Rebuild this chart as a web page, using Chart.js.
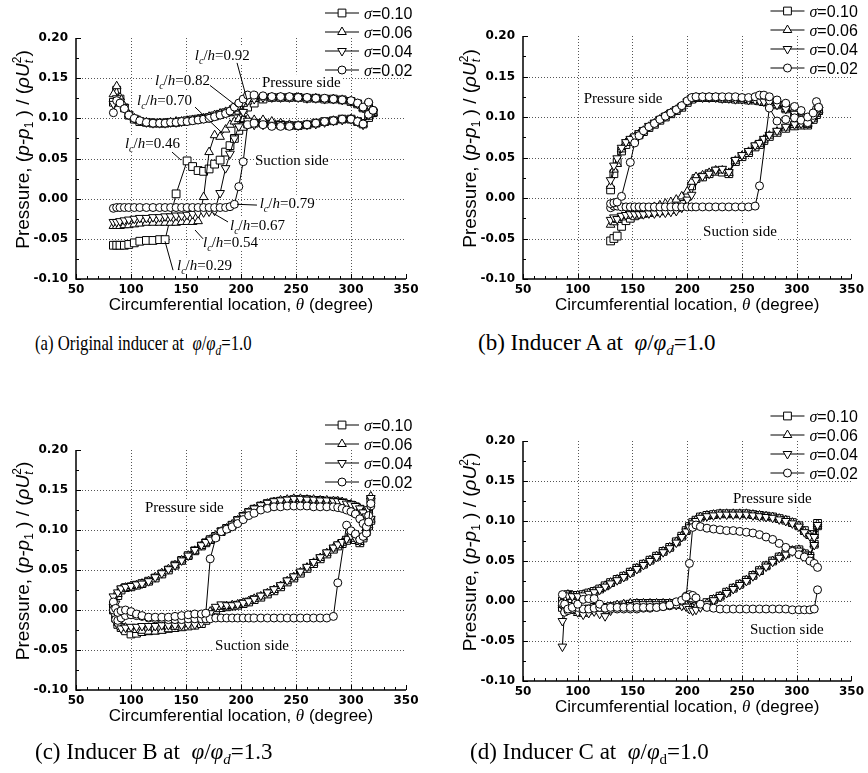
<!DOCTYPE html>
<html>
<head>
<meta charset="utf-8">
<title>Blade surface pressure distributions</title>
<script src="https://cdn.jsdelivr.net/npm/chart.js@4.4.0/dist/chart.umd.min.js"></script>
<style>
  body { margin: 0; background: #fff; }
  #page { position: relative; width: 868px; height: 773px; overflow: hidden; }
  canvas { position: absolute; }
  .cap { position: absolute; font-family: "Liberation Serif", "Times New Roman", serif; font-size: 23px; line-height: 26px; white-space: nowrap; }
  .cap.narrow { font-size: 22px; transform: scaleX(0.76); transform-origin: 0 0; }
  .cap sub { font-size: 15px; vertical-align: -5px; line-height: 0; }
</style>
</head>
<body>
<div id="page">
  <canvas id="chartA" width="434" height="330" style="left:0;top:0"></canvas>
  <canvas id="chartB" width="434" height="330" style="left:434px;top:0"></canvas>
  <canvas id="chartC" width="434" height="360" style="left:0;top:380px"></canvas>
  <canvas id="chartD" width="434" height="360" style="left:434px;top:380px"></canvas>
  <div class="cap narrow" style="left:35px;top:330px">(a) Original inducer at&nbsp; <i>φ</i>/<i>φ</i><sub><i>d</i></sub>=1.0</div>
  <div class="cap" style="left:478px;top:330px">(b) Inducer A at&nbsp; <i>φ</i>/<i>φ</i><sub><i>d</i></sub>=1.0</div>
  <div class="cap" style="left:35px;top:739px">(c) Inducer B at&nbsp; <i>φ</i>/<i>φ</i><sub><i>d</i></sub>=1.3</div>
  <div class="cap" style="left:470px;top:739px">(d) Inducer C at&nbsp; <i>φ</i>/<i>φ</i><sub>d</sub>=1.0</div>
</div>
<script>
const SANS = '"Liberation Sans", Arial, sans-serif';
const SERIF = '"Liberation Serif", "Times New Roman", serif';

const thetaTicks = [50, 100, 150, 200, 250, 300, 350];
const pressureTicks = [-0.10, -0.05, 0.00, 0.05, 0.10, 0.15, 0.20];
const sigmaLabels = ['0.10', '0.06', '0.04', '0.02'];

// (a) original inducer
const thetaA = [84, 87, 90, 94, 98, 103, 108, 114, 120, 126, 131, 136, 141, 146, 151, 156, 161, 166, 171, 176, 181, 186, 190, 194, 198, 202, 206, 212, 220, 228, 236, 244, 252, 260, 268, 276, 284, 292, 300, 306, 311, 316, 320];
const pA10 = [0.120, 0.135, 0.124, 0.113, 0.104, 0.099, 0.096, 0.095, 0.094, 0.094, 0.094, 0.095, 0.095, 0.096, 0.097, 0.098, 0.099, 0.100, 0.101, 0.103, 0.105, 0.107, 0.108, 0.109, 0.110, 0.111, 0.114, 0.119, 0.124, 0.126, 0.126, 0.126, 0.126, 0.125, 0.125, 0.124, 0.124, 0.123, 0.121, 0.118, 0.113, 0.117, 0.108];
const pA06 = [0.130, 0.140, 0.126, 0.115, 0.105, 0.100, 0.097, 0.095, 0.094, 0.094, 0.094, 0.095, 0.096, 0.096, 0.097, 0.098, 0.099, 0.100, 0.102, 0.104, 0.106, 0.108, 0.110, 0.112, 0.115, 0.118, 0.121, 0.124, 0.126, 0.126, 0.126, 0.126, 0.126, 0.125, 0.125, 0.124, 0.124, 0.123, 0.121, 0.118, 0.113, 0.116, 0.107];
const pA04 = [0.118, 0.125, 0.121, 0.114, 0.105, 0.100, 0.097, 0.095, 0.094, 0.094, 0.094, 0.095, 0.095, 0.096, 0.097, 0.098, 0.099, 0.100, 0.101, 0.103, 0.105, 0.107, 0.109, 0.113, 0.116, 0.120, 0.122, 0.124, 0.126, 0.126, 0.126, 0.126, 0.126, 0.125, 0.125, 0.124, 0.124, 0.123, 0.121, 0.118, 0.113, 0.117, 0.108];
const pA02 = [0.107, 0.122, 0.119, 0.112, 0.104, 0.100, 0.097, 0.095, 0.094, 0.094, 0.094, 0.095, 0.095, 0.096, 0.096, 0.097, 0.098, 0.099, 0.100, 0.102, 0.104, 0.106, 0.109, 0.114, 0.119, 0.124, 0.129, 0.129, 0.128, 0.127, 0.127, 0.127, 0.126, 0.126, 0.125, 0.125, 0.124, 0.123, 0.122, 0.119, 0.114, 0.120, 0.110];
const sA10 = [-0.058, -0.058, -0.058, -0.058, -0.057, -0.055, -0.053, -0.052, -0.052, -0.051, -0.051, null, 0.006, null, 0.047, 0.040, 0.035, 0.034, 0.037, 0.043, 0.048, 0.058, 0.066, 0.075, 0.085, 0.090, 0.093, 0.094, 0.094, 0.093, 0.092, 0.091, 0.091, 0.092, 0.094, 0.096, 0.097, 0.099, 0.099, 0.096, 0.093, 0.101, 0.107];
const sA06 = [-0.034, -0.034, -0.034, -0.033, -0.033, -0.032, -0.031, -0.030, -0.030, -0.030, -0.030, -0.030, -0.030, -0.029, -0.029, -0.029, -0.028, 0.002, 0.058, 0.079, 0.077, 0.086, 0.092, 0.096, 0.099, 0.099, 0.099, 0.098, 0.098, 0.096, 0.094, 0.092, 0.091, 0.092, 0.093, 0.095, 0.097, 0.098, 0.099, 0.096, 0.093, 0.102, 0.106];
const sA04 = [-0.029, -0.029, -0.028, -0.027, -0.026, -0.025, -0.024, -0.024, -0.023, -0.023, -0.022, -0.022, -0.021, -0.021, -0.020, -0.019, -0.018, -0.017, -0.016, -0.015, 0.007, 0.038, 0.056, 0.075, 0.090, 0.108, 0.097, 0.092, 0.092, 0.092, 0.093, 0.092, 0.091, 0.092, 0.093, 0.095, 0.097, 0.098, 0.099, 0.096, 0.092, 0.104, 0.107];
const sA02 = [-0.012, -0.011, -0.011, -0.011, -0.011, -0.011, -0.011, -0.011, -0.011, -0.011, -0.011, -0.011, -0.011, -0.011, -0.011, -0.011, -0.011, -0.011, -0.011, -0.011, -0.011, -0.011, -0.010, -0.007, 0.015, 0.046, 0.092, 0.094, 0.092, 0.090, 0.090, 0.090, 0.091, 0.092, 0.094, 0.096, 0.097, 0.099, 0.099, 0.096, 0.093, 0.105, 0.110];

// (b) inducer A
const thetaB = [130, 133, 136, 140, 144, 148, 152, 156, 160, 165, 170, 175, 180, 185, 190, 195, 200, 204, 208, 214, 220, 226, 232, 238, 244, 250, 256, 262, 266, 270, 275, 282, 290, 298, 304, 310, 315, 318, 320];
const pB10 = [0.010, 0.030, 0.044, 0.058, 0.066, 0.070, 0.074, 0.078, 0.082, 0.087, 0.091, 0.096, 0.100, 0.104, 0.108, 0.112, 0.118, 0.122, 0.124, 0.124, 0.124, 0.124, 0.123, 0.123, 0.122, 0.122, 0.121, 0.121, 0.120, 0.119, 0.118, 0.115, 0.110, 0.104, 0.098, 0.092, 0.097, 0.103, 0.108];
const pB06 = [0.015, 0.035, 0.042, 0.060, 0.068, 0.072, 0.075, 0.079, 0.083, 0.088, 0.092, 0.097, 0.101, 0.105, 0.109, 0.113, 0.119, 0.123, 0.124, 0.124, 0.124, 0.124, 0.123, 0.123, 0.122, 0.122, 0.121, 0.121, 0.120, 0.119, 0.118, 0.115, 0.110, 0.104, 0.098, 0.092, 0.098, 0.104, 0.109];
const pB04 = [0.022, 0.040, 0.049, 0.062, 0.069, 0.073, 0.076, 0.080, 0.084, 0.089, 0.093, 0.097, 0.101, 0.105, 0.109, 0.113, 0.119, 0.123, 0.124, 0.124, 0.124, 0.124, 0.123, 0.123, 0.122, 0.122, 0.121, 0.121, 0.120, 0.119, 0.118, 0.115, 0.110, 0.104, 0.098, 0.092, 0.098, 0.104, 0.109];
const pB02 = [-0.007, -0.006, -0.005, 0.002, null, 0.044, 0.068, 0.077, 0.083, 0.088, 0.092, 0.097, 0.101, 0.105, 0.109, 0.114, 0.120, 0.124, 0.125, 0.125, 0.125, 0.125, 0.125, 0.125, 0.125, 0.124, 0.124, 0.125, 0.127, 0.127, 0.125, 0.121, 0.117, 0.113, 0.108, 0.100, 0.105, 0.119, 0.112];
const sB10 = [-0.053, -0.050, -0.047, -0.035, -0.028, -0.025, -0.022, -0.020, -0.019, -0.018, -0.017, -0.016, -0.015, -0.014, -0.012, -0.008, 0.002, 0.015, 0.024, 0.026, 0.030, 0.033, 0.032, 0.030, 0.045, 0.051, 0.056, 0.063, 0.066, 0.071, 0.076, 0.081, 0.086, 0.089, 0.090, 0.090, 0.098, 0.104, 0.108];
const sB06 = [-0.033, -0.030, -0.027, -0.024, -0.022, -0.020, -0.018, -0.016, -0.015, -0.013, -0.011, -0.009, -0.007, -0.005, -0.002, 0.002, 0.008, 0.020, 0.026, 0.028, 0.031, 0.034, 0.034, 0.031, 0.046, 0.052, 0.057, 0.064, 0.067, 0.072, 0.077, 0.082, 0.087, 0.090, 0.091, 0.091, 0.099, 0.104, 0.108];
const sB04 = [-0.027, -0.024, -0.026, -0.022, -0.021, -0.020, -0.020, -0.020, -0.020, -0.019, -0.019, -0.018, -0.018, -0.017, -0.016, -0.012, -0.002, 0.004, 0.022, 0.027, 0.030, 0.035, 0.036, 0.032, 0.047, 0.053, 0.058, 0.065, 0.068, 0.073, 0.078, 0.083, 0.088, 0.091, 0.092, 0.092, 0.100, 0.105, 0.109];
const sB02 = [-0.012, -0.010, -0.010, -0.011, -0.011, -0.011, -0.011, -0.011, -0.011, -0.011, -0.011, -0.011, -0.011, -0.011, -0.011, -0.011, -0.011, -0.011, -0.011, -0.011, -0.011, -0.011, -0.011, -0.011, -0.011, -0.011, -0.011, -0.010, 0.015, null, 0.111, 0.095, 0.097, 0.099, 0.096, 0.093, 0.102, 0.110, 0.112];

// (c) inducer B
const thetaC = [84, 86, 88, 91, 95, 100, 105, 110, 116, 122, 128, 134, 140, 146, 152, 158, 164, 168, 172, 177, 182, 187, 192, 197, 202, 207, 212, 218, 224, 230, 236, 242, 248, 254, 260, 266, 272, 278, 284, 288, 292, 296, 300, 304, 308, 311, 314, 316, 318];
const pC10 = [0.005, 0.000, 0.018, 0.025, 0.028, 0.029, 0.031, 0.033, 0.036, 0.040, 0.045, 0.050, 0.056, 0.062, 0.068, 0.074, 0.080, 0.084, 0.088, 0.092, 0.098, 0.102, 0.106, 0.112, 0.117, 0.122, 0.126, 0.130, 0.133, 0.135, 0.136, 0.137, 0.138, 0.138, 0.138, 0.137, 0.137, 0.136, 0.136, 0.135, 0.134, 0.132, 0.131, 0.129, 0.126, 0.120, 0.112, 0.122, 0.138];
const pC06 = [0.010, 0.004, 0.020, 0.026, 0.028, 0.030, 0.031, 0.033, 0.036, 0.041, 0.046, 0.051, 0.056, 0.062, 0.068, 0.074, 0.080, 0.084, 0.088, 0.093, 0.098, 0.102, 0.107, 0.112, 0.117, 0.122, 0.126, 0.130, 0.133, 0.135, 0.137, 0.138, 0.139, 0.139, 0.138, 0.138, 0.137, 0.137, 0.136, 0.136, 0.135, 0.133, 0.132, 0.130, 0.127, 0.121, 0.115, 0.124, 0.142];
const pC04 = [0.017, 0.008, 0.022, 0.027, 0.029, 0.030, 0.032, 0.033, 0.036, 0.041, 0.046, 0.051, 0.056, 0.062, 0.068, 0.075, 0.081, 0.085, 0.088, 0.093, 0.099, 0.103, 0.107, 0.113, 0.118, 0.123, 0.127, 0.131, 0.134, 0.136, 0.137, 0.138, 0.139, 0.139, 0.138, 0.138, 0.137, 0.137, 0.136, 0.136, 0.135, 0.133, 0.132, 0.130, 0.127, 0.122, 0.117, 0.126, 0.140];
const pC02 = [0.010, 0.002, -0.003, -0.001, 0.000, -0.002, -0.005, -0.007, -0.009, -0.009, -0.009, -0.009, -0.008, -0.007, -0.006, -0.005, -0.005, -0.004, 0.064, 0.090, 0.098, 0.101, 0.104, 0.108, 0.113, 0.118, 0.121, 0.125, 0.127, 0.129, 0.129, 0.130, 0.130, 0.130, 0.130, 0.129, 0.129, 0.129, 0.129, 0.128, 0.127, 0.125, 0.123, 0.120, 0.114, 0.108, 0.104, 0.110, 0.133];
const sC10 = [0.000, -0.010, -0.018, -0.022, -0.026, -0.030, -0.029, -0.027, -0.026, -0.025, -0.024, -0.023, -0.022, -0.021, -0.020, -0.019, -0.017, -0.013, -0.006, 0.000, 0.003, 0.004, 0.005, 0.006, 0.008, 0.010, 0.013, 0.016, 0.020, 0.024, 0.029, 0.035, 0.040, 0.046, 0.052, 0.058, 0.064, 0.070, 0.076, 0.080, 0.083, 0.087, 0.091, 0.088, 0.084, 0.090, 0.098, 0.105, 0.112];
const sC06 = [0.003, -0.008, -0.016, -0.020, -0.022, -0.024, -0.025, -0.026, -0.027, -0.027, -0.026, -0.024, -0.021, -0.018, -0.015, -0.012, -0.008, -0.005, -0.002, 0.001, 0.004, 0.005, 0.006, 0.007, 0.009, 0.011, 0.014, 0.017, 0.021, 0.025, 0.030, 0.036, 0.041, 0.047, 0.053, 0.059, 0.065, 0.071, 0.077, 0.081, 0.084, 0.088, 0.092, 0.089, 0.085, 0.091, 0.099, 0.106, 0.113];
const sC04 = [-0.004, -0.012, -0.019, -0.023, -0.022, -0.021, -0.021, -0.020, -0.020, -0.020, -0.019, -0.019, -0.019, -0.019, -0.018, -0.018, -0.016, -0.010, -0.004, 0.004, 0.007, 0.006, 0.006, 0.007, 0.009, 0.011, 0.014, 0.018, 0.022, 0.026, 0.031, 0.037, 0.042, 0.048, 0.054, 0.060, 0.066, 0.072, 0.078, 0.082, 0.085, 0.089, 0.093, 0.090, 0.086, 0.092, 0.100, 0.107, 0.114];
const sC02 = [0.000, -0.012, -0.013, -0.010, -0.007, -0.006, -0.007, -0.008, -0.010, -0.011, -0.011, -0.012, -0.012, -0.012, -0.011, -0.011, -0.011, -0.011, -0.011, -0.010, -0.010, -0.010, -0.010, -0.010, -0.010, -0.010, -0.010, -0.010, -0.010, -0.010, -0.010, -0.010, -0.010, -0.010, -0.010, -0.010, -0.010, -0.010, -0.008, 0.034, null, 0.106, 0.099, 0.095, 0.088, 0.092, 0.096, 0.118, 0.130];

// (d) inducer C
const thetaD = [86, 88, 91, 95, 100, 105, 110, 115, 120, 125, 130, 136, 142, 148, 154, 160, 166, 172, 178, 184, 190, 195, 199, 202, 205, 208, 212, 218, 224, 230, 236, 242, 248, 254, 260, 266, 272, 278, 284, 290, 296, 302, 307, 312, 316, 319];
const pD10 = [0.000, 0.006, 0.008, 0.007, 0.007, 0.008, 0.010, 0.012, 0.015, 0.019, 0.023, 0.027, 0.031, 0.036, 0.041, 0.046, 0.051, 0.056, 0.062, 0.067, 0.074, 0.081, 0.088, 0.093, 0.098, 0.101, 0.105, 0.107, 0.108, 0.109, 0.109, 0.109, 0.109, 0.109, 0.108, 0.107, 0.106, 0.105, 0.103, 0.101, 0.098, 0.094, 0.088, 0.083, 0.083, 0.097];
const pD06 = [-0.005, 0.005, 0.008, 0.007, 0.007, 0.008, 0.010, 0.012, 0.015, 0.019, 0.023, 0.027, 0.031, 0.036, 0.041, 0.046, 0.051, 0.056, 0.062, 0.067, 0.074, 0.081, 0.088, 0.093, 0.098, 0.101, 0.105, 0.107, 0.108, 0.109, 0.109, 0.109, 0.109, 0.109, 0.108, 0.107, 0.106, 0.105, 0.103, 0.101, 0.098, 0.094, 0.087, 0.082, 0.082, 0.096];
const pD04 = [-0.025, 0.004, 0.007, 0.006, 0.006, 0.007, 0.009, 0.011, 0.014, 0.018, 0.022, 0.026, 0.030, 0.035, 0.040, 0.045, 0.050, 0.055, 0.061, 0.066, 0.073, 0.080, 0.087, 0.092, 0.097, 0.100, 0.104, 0.106, 0.107, 0.108, 0.108, 0.108, 0.108, 0.108, 0.107, 0.106, 0.105, 0.104, 0.102, 0.100, 0.097, 0.093, 0.086, 0.081, 0.080, 0.095];
const pD02 = [0.008, -0.004, -0.010, -0.008, -0.004, 0.002, 0.003, 0.003, -0.004, -0.009, -0.008, -0.008, -0.008, -0.008, -0.008, -0.008, -0.008, -0.008, -0.007, -0.005, -0.001, 0.001, 0.005, 0.047, 0.092, 0.095, 0.093, 0.091, 0.090, 0.089, 0.088, 0.088, 0.087, 0.086, 0.085, 0.083, 0.080, 0.077, 0.072, 0.067, 0.062, 0.058, 0.055, 0.050, 0.047, 0.042];
const sD10 = [-0.008, -0.005, -0.002, -0.008, -0.011, -0.012, -0.010, -0.008, -0.008, -0.008, -0.007, -0.006, -0.005, -0.004, -0.003, -0.003, -0.003, -0.003, -0.003, -0.003, -0.004, -0.004, -0.005, -0.006, -0.008, -0.007, -0.005, -0.002, 0.002, 0.006, 0.011, 0.016, 0.021, 0.026, 0.032, 0.038, 0.044, 0.050, 0.055, 0.059, 0.063, 0.064, 0.059, 0.056, 0.071, 0.094];
const sD06 = [-0.003, -0.012, -0.006, -0.012, -0.015, -0.016, -0.013, -0.010, -0.012, -0.013, -0.008, -0.005, -0.004, -0.003, -0.003, -0.003, -0.003, -0.003, -0.003, -0.003, -0.004, -0.004, -0.005, -0.007, -0.009, -0.008, -0.006, -0.003, 0.002, 0.006, 0.011, 0.016, 0.021, 0.026, 0.032, 0.038, 0.044, 0.050, 0.055, 0.059, 0.063, 0.064, 0.059, 0.056, 0.071, 0.094];
const sD04 = [-0.057, -0.010, -0.005, -0.010, -0.014, -0.017, -0.015, -0.013, -0.016, -0.019, -0.012, -0.008, -0.006, -0.005, -0.004, -0.004, -0.004, -0.004, -0.004, -0.004, -0.005, -0.006, -0.007, -0.010, -0.012, -0.011, -0.008, -0.004, 0.001, 0.005, 0.010, 0.015, 0.020, 0.025, 0.031, 0.037, 0.043, 0.049, 0.054, 0.058, 0.062, 0.063, 0.058, 0.055, 0.070, 0.093];
const sD02 = [-0.003, -0.014, -0.012, -0.010, -0.008, -0.010, -0.010, -0.009, -0.008, -0.009, -0.010, -0.010, -0.010, -0.010, -0.010, -0.009, -0.009, -0.008, -0.007, -0.006, -0.004, 0.000, 0.006, 0.008, 0.007, 0.004, -0.004, -0.008, -0.009, -0.010, -0.010, -0.010, -0.010, -0.010, -0.010, -0.010, -0.010, -0.010, -0.010, -0.010, -0.011, -0.011, -0.011, -0.011, -0.010, 0.014];

const markers = [
  { pointStyle: 'rect', rotation: 0, radius: 5.5 },
  { pointStyle: 'triangle', rotation: 0, radius: 5 },
  { pointStyle: 'triangle', rotation: 180, radius: 5 },
  { pointStyle: 'circle', rotation: 0, radius: 4 }
];

function drawRich(ctx, parts, x, y, align, measureOnly) {
  let w = 0;
  parts.forEach(p => { ctx.font = p.f; if (!p.keep) w += ctx.measureText(p.t).width; });
  if (measureOnly) return w;
  let cx = align === 'center' ? x - w / 2 : x;
  ctx.textAlign = 'left';
  ctx.textBaseline = 'alphabetic';
  parts.forEach(p => {
    ctx.font = p.f;
    ctx.fillText(p.t, cx, y + (p.dy || 0));
    if (!p.keep) cx += ctx.measureText(p.t).width;
  });
  return w;
}

function noteParts(n) {
  if (n.lc) {
    return [
      { t: 'l', f: `italic 15px ${SERIF}` },
      { t: 'c', f: `italic 10px ${SERIF}`, dy: 4 },
      { t: '/', f: `15px ${SERIF}` },
      { t: 'h', f: `italic 15px ${SERIF}` },
      { t: '=' + n.lc, f: `15px ${SERIF}` }
    ];
  }
  return [{ t: n.text, f: `15px ${SERIF}` }];
}

const yTitle = [
  { t: 'Pressure, (', f: `19px ${SANS}` },
  { t: 'p-p', f: `italic 19px ${SANS}` },
  { t: '1', f: `12px ${SANS}`, dy: 4 },
  { t: ' ) / (', f: `19px ${SANS}` },
  { t: 'ρU', f: `italic 19px ${SANS}` },
  { t: 't', f: `italic 12px ${SANS}`, dy: 4, keep: true },
  { t: '2', f: `12px ${SANS}`, dy: -8 },
  { t: ')', f: `19px ${SANS}` }
];
const xTitle = [
  { t: 'Circumferential location, ', f: `17px ${SANS}` },
  { t: 'θ', f: `italic 17px ${SERIF}` },
  { t: ' (degree)', f: `17px ${SANS}` }
];

function line(ctx, x1, y1, x2, y2) {
  ctx.beginPath();
  ctx.moveTo(x1, y1);
  ctx.lineTo(x2, y2);
  ctx.stroke();
}

const decor = {
  id: 'decor',
  beforeDatasetsDraw(chart, args, opts) {
    const { ctx, chartArea: a, scales: { x, y } } = chart;
    ctx.save();
    ctx.strokeStyle = '#555';
    ctx.lineWidth = 1;
    ctx.setLineDash([1, 2]);
    thetaTicks.slice(1, -1).forEach(v => {
      const px = Math.round(x.getPixelForValue(v)) + 0.5;
      line(ctx, px, a.top, px, a.bottom);
    });
    pressureTicks.slice(1, -1).forEach(v => {
      const py = Math.round(y.getPixelForValue(v)) + 0.5;
      line(ctx, a.left, py, a.right, py);
    });
    ctx.setLineDash([]);
    // white boxes behind the notes hide the grid
    ctx.fillStyle = '#fff';
    opts.notes.forEach(n => {
      const w = drawRich(ctx, noteParts(n), 0, 0, 'left', true);
      const px = x.getPixelForValue(n.x), py = y.getPixelForValue(n.y);
      ctx.fillRect(px - 1, py - 8, w + 2, 17);
    });
    ctx.restore();
  },
  afterDatasetsDraw(chart, args, opts) {
    const { ctx, chartArea: a, scales: { x, y } } = chart;
    ctx.save();
    ctx.strokeStyle = '#000';
    ctx.fillStyle = '#000';
    ctx.lineWidth = 1.5;
    ctx.beginPath();
    ctx.moveTo(a.left, a.top);
    ctx.lineTo(a.left, a.bottom);
    ctx.lineTo(a.right, a.bottom);
    ctx.stroke();
    ctx.lineWidth = 1;
    for (let v = 50; v <= 350; v += 10) {
      const px = Math.round(x.getPixelForValue(v)) + 0.5;
      line(ctx, px, a.bottom, px, a.bottom - (v % 50 === 0 ? 5 : 3));
    }
    for (let i = 0; i <= 12; i++) {
      const py = Math.round(y.getPixelForValue(-0.1 + i * 0.025)) + 0.5;
      line(ctx, a.left, py, a.left + (i % 2 === 0 ? 5 : 3), py);
    }
    // notes and leader lines
    opts.notes.forEach(n => {
      const px = x.getPixelForValue(n.x), py = y.getPixelForValue(n.y);
      drawRich(ctx, noteParts(n), px, py + 5, 'left');
      if (n.lead) {
        line(ctx, x.getPixelForValue(n.lead[0]), y.getPixelForValue(n.lead[1]),
          x.getPixelForValue(n.lead[2]), y.getPixelForValue(n.lead[3]));
      }
    });
    // legend
    sigmaLabels.forEach((s, k) => {
      const ly = a.top - 25 + k * 19;
      ctx.strokeStyle = '#000';
      ctx.lineWidth = 1;
      line(ctx, a.right - 81, ly, a.right - 47, ly);
      ctx.fillStyle = '#fff';
      Chart.helpers.drawPoint(ctx, { ...markers[k], borderWidth: 1 }, a.right - 64, ly);
      ctx.fillStyle = '#000';
      drawRich(ctx, [{ t: 'σ', f: `italic 16px ${SERIF}` }, { t: '=' + s, f: `16px ${SANS}` }], a.right - 42, ly + 6, 'left');
    });
    // axis titles
    drawRich(ctx, xTitle, (a.left + a.right) / 2, a.bottom + 31, 'center');
    ctx.translate(a.left - 54, (a.top + a.bottom) / 2 - 9);
    ctx.rotate(-Math.PI / 2);
    drawRich(ctx, yTitle, 0, 7, 'center');
    ctx.restore();
  }
};

function makePanel(id, theta, pres, suct, notes, box) {
  const canvas = document.getElementById(id);
  const datasets = [];
  for (let k = 0; k < 4; k++) {
    [pres[k], suct[k]].forEach(vals => {
      datasets.push({
        data: theta.map((t, i) => ({ x: t, y: vals[i] })),
        borderColor: '#000',
        borderWidth: 1,
        pointStyle: markers[k].pointStyle,
        rotation: markers[k].rotation,
        pointRadius: markers[k].radius,
        pointBackgroundColor: '#fff',
        pointBorderColor: '#000',
        pointBorderWidth: 1,
        tension: 0,
        spanGaps: true,
        fill: false,
        order: 4 - k
      });
    });
  }
  return new Chart(canvas, {
    type: 'line',
    data: { datasets },
    options: {
      responsive: false,
      animation: false,
      events: [],
      layout: { padding: { left: 0, top: box.top, right: canvas.width - box.right, bottom: canvas.height - box.bottom - 26 } },
      plugins: { legend: { display: false }, tooltip: { enabled: false }, decor: { notes } },
      scales: {
        x: {
          type: 'linear', min: 50, max: 350,
          afterBuildTicks: s => { s.ticks = thetaTicks.map(v => ({ value: v })); },
          ticks: { font: { family: '"DejaVu Sans", sans-serif', size: 12, weight: 'bold' }, color: '#000', padding: 4, autoSkip: false, maxRotation: 0 },
          grid: { display: false, drawTicks: false },
          border: { display: false },
          afterFit: s => { s.height = 26; }
        },
        y: {
          type: 'linear', min: -0.1, max: 0.2,
          afterBuildTicks: s => { s.ticks = pressureTicks.map(v => ({ value: v })); },
          ticks: { font: { family: '"DejaVu Sans", sans-serif', size: 12, weight: 'bold' }, color: '#000', padding: 8, autoSkip: false,
            callback: v => (Math.abs(v) < 1e-9 ? 0 : v).toFixed(2) },
          grid: { display: false, drawTicks: false },
          border: { display: false },
          afterFit: s => { s.width = box.left; }
        }
      }
    },
    plugins: [decor]
  });
}

const notesA = [
  { lc: '0.92', x: 158, y: 0.179, lead: [196.4, 0.169, 205.5, 0.123] },
  { lc: '0.82', x: 121.8, y: 0.148, lead: [171.8, 0.141, 197.3, 0.114] },
  { lc: '0.70', x: 105.5, y: 0.123, lead: [158.2, 0.114, 182.7, 0.082] },
  { lc: '0.46', x: 94.5, y: 0.069, lead: [137.3, 0.058, 145.5, 0.048] },
  { lc: '0.79', x: 217, y: -0.005, lead: [214.5, -0.008, 196.4, -0.007] },
  { lc: '0.67', x: 190, y: -0.033, lead: [188.2, -0.029, 174.5, -0.018] },
  { lc: '0.54', x: 165.5, y: -0.054, lead: [165.5, -0.050, 158.2, -0.039] },
  { lc: '0.29', x: 141.8, y: -0.083, lead: [138.2, -0.089, 130.9, -0.053] },
  { text: 'Pressure side', x: 219, y: 0.145 },
  { text: 'Suction side', x: 212.7, y: 0.048 }
];
const notesB = [
  { text: 'Pressure side', x: 105.5, y: 0.124 },
  { text: 'Suction side', x: 214.5, y: -0.041 }
];
const notesC = [
  { text: 'Pressure side', x: 112.7, y: 0.129 },
  { text: 'Suction side', x: 176.4, y: -0.044 }
];
const notesD = [
  { text: 'Pressure side', x: 241.8, y: 0.129 },
  { text: 'Suction side', x: 257.3, y: -0.035 }
];

makePanel('chartA', thetaA, [pA10, pA06, pA04, pA02], [sA10, sA06, sA04, sA02], notesA, { left: 76, top: 38, right: 406, bottom: 279 });
makePanel('chartB', thetaB, [pB10, pB06, pB04, pB02], [sB10, sB06, sB04, sB02], notesB, { left: 89, top: 36, right: 419, bottom: 279 });
makePanel('chartC', thetaC, [pC10, pC06, pC04, pC02], [sC10, sC06, sC04, sC02], notesC, { left: 76, top: 70, right: 406, bottom: 310 });
makePanel('chartD', thetaD, [pD10, pD06, pD04, pD02], [sD10, sD06, sD04, sD02], notesD, { left: 89, top: 61, right: 419, bottom: 301 });
</script>
</body>
</html>
